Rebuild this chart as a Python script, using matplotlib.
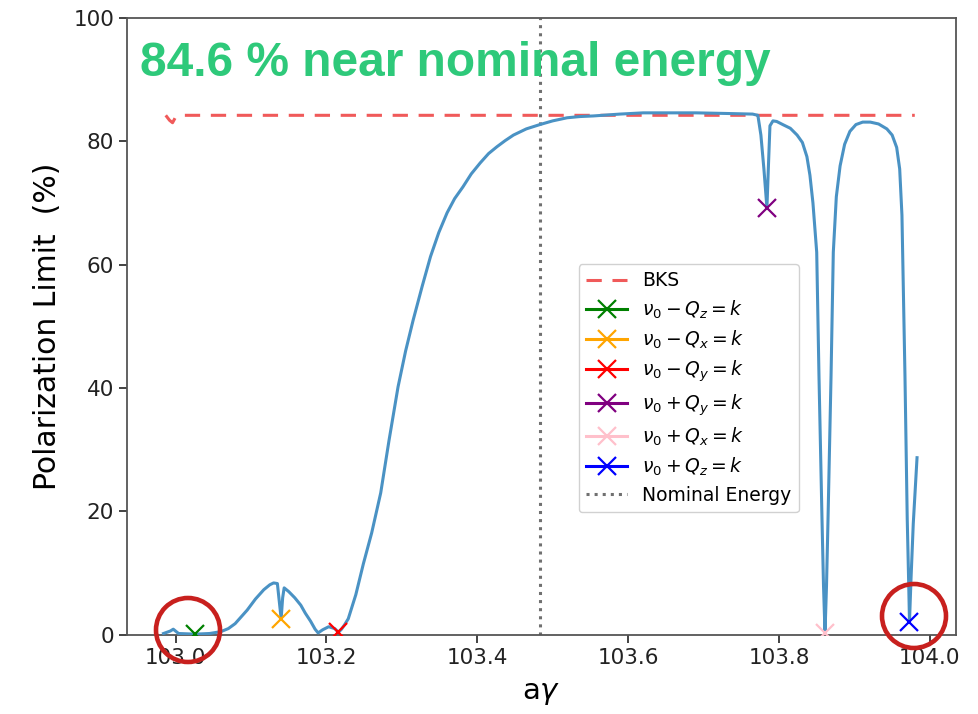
import matplotlib
matplotlib.use('Agg')
import matplotlib.pyplot as plt
from matplotlib.patches import Ellipse

# polarization limit vs a*gamma
agamma = [102.984, 102.993, 102.997, 103.004, 103.026, 103.045, 103.060, 103.070,
          103.079, 103.087, 103.095, 103.106, 103.117, 103.125, 103.130, 103.135,
          103.137, 103.140, 103.142, 103.144, 103.150, 103.158, 103.166, 103.172,
          103.179, 103.185, 103.189, 103.195, 103.203, 103.211, 103.216, 103.220,
          103.224, 103.229, 103.239, 103.249, 103.260, 103.272, 103.283, 103.295,
          103.305, 103.315, 103.327, 103.338, 103.349, 103.360, 103.370, 103.381,
          103.392, 103.404, 103.415, 103.426, 103.437, 103.448, 103.465, 103.483,
          103.500, 103.519, 103.536, 103.554, 103.589, 103.620, 103.650, 103.690,
          103.730, 103.765, 103.772, 103.776, 103.780, 103.784, 103.786, 103.788,
          103.792, 103.797, 103.805, 103.815, 103.824, 103.831, 103.837, 103.841,
          103.845, 103.850, 103.853, 103.857, 103.859, 103.861, 103.863, 103.865,
          103.869, 103.872, 103.876, 103.881, 103.887, 103.894, 103.902, 103.911,
          103.921, 103.932, 103.943, 103.950, 103.956, 103.960, 103.963, 103.967,
          103.970, 103.972, 103.973, 103.975, 103.978, 103.983]
pol_limit = [0.2, 0.6, 0.9, 0.2, 0.1, 0.2, 0.5, 1.0,
             1.8, 2.9, 4.0, 5.8, 7.3, 8.1, 8.4, 8.3,
             6.0, 2.6, 6.0, 7.6, 7.0, 6.0, 4.8, 3.5,
             2.2, 0.9, 0.3, 0.8, 1.3, 1.0, 0.4, 0.9,
             1.6, 2.6, 6.5, 11.5, 16.5, 23.0, 31.5, 40.2,
             46.0, 51.0, 56.5, 61.3, 65.2, 68.4, 70.7, 72.6,
             74.7, 76.5, 78.0, 79.1, 80.1, 81.0, 82.0, 82.7,
             83.3, 83.8, 84.0, 84.1, 84.4, 84.6, 84.6, 84.6,
             84.5, 84.4, 84.2, 81.0, 75.5, 69.2, 76.0, 82.5,
             83.3, 83.2, 82.7, 82.1, 81.0, 79.8, 77.5, 74.5,
             70.0, 62.0, 42.0, 18.8, 8.0, 0.3, 8.0, 18.8,
             42.0, 62.0, 71.0, 76.0, 79.5, 81.6, 82.7, 83.1,
             83.1, 82.8, 82.0, 81.0, 79.0, 75.5, 68.0, 42.0,
             18.8, 8.0, 2.1, 9.0, 18.0, 28.7]

bks_x = [102.987, 102.992, 102.996, 103.000, 103.010, 103.980]
bks_y = [84.2, 83.4, 83.0, 83.9, 84.2, 84.2]

nominal_energy = 103.483

res_labels = [r'$\nu_0 - Q_z = k$', r'$\nu_0 - Q_x = k$', r'$\nu_0 - Q_y = k$',
              r'$\nu_0 + Q_y = k$', r'$\nu_0 + Q_x = k$', r'$\nu_0 + Q_z = k$']
res_x = [103.026, 103.140, 103.216, 103.784, 103.861, 103.973]
res_y = [0.2, 2.6, 0.4, 69.2, 0.3, 2.1]
res_colors = ['green', 'orange', 'red', 'purple', 'pink', 'blue']

fig = plt.figure(figsize=(9.79, 7.14), dpi=100)
ax = fig.add_axes([0.130, 0.111, 0.846, 0.864])

ax.plot(agamma, pol_limit, color='#4a92c4', lw=2.2, zorder=3)
ax.plot(bks_x, bks_y, '--', color='#f05a5a', lw=2.2, dashes=(5, 3.5), label='BKS')
for xx, yy, c, lab in zip(res_x, res_y, res_colors, res_labels):
    ax.plot([xx], [yy], 'x-', color=c, ms=13, mew=1.6, lw=2.2, label=lab, zorder=4)
ax.axvline(nominal_energy, color='#707070', ls=':', lw=2.2, label='Nominal Energy')

ax.set_xlim(102.936, 104.034)
ax.set_ylim(0, 100)
ax.set_xticks([103.0, 103.2, 103.4, 103.6, 103.8, 104.0])
ax.set_yticks([0, 20, 40, 60, 80, 100])
ax.tick_params(labelsize=15.5, length=6, width=1.2, colors='#222222')
for s in ax.spines.values():
    s.set_color('#555555')
    s.set_linewidth(1.3)

ax.set_xlabel(r'a$\gamma$', fontsize=21, labelpad=8)
ax.set_ylabel('Polarization Limit  (%)', fontsize=21.5, labelpad=8)

ax.legend(loc='upper left', bbox_to_anchor=(0.545, 0.601), borderaxespad=0,
          fontsize=13.5, handlelength=2.2, labelspacing=0.42, framealpha=0.9)

fig.text(140 / 979, 1 - 76 / 714, '84.6 % near nominal energy', fontsize=34.5,
         fontweight='bold', color='#2ec97a', family=['Liberation Sans Narrow', 'Liberation Sans'])

# highlight circles
for cx, cy in [(188, 630), (914, 616)]:
    fig.add_artist(Ellipse((cx / 979, 1 - cy / 714), 64 / 979, 64 / 714,
                           fill=False, ec='#c8201e', lw=3.3))

fig.savefig('out.png', dpi=100)
